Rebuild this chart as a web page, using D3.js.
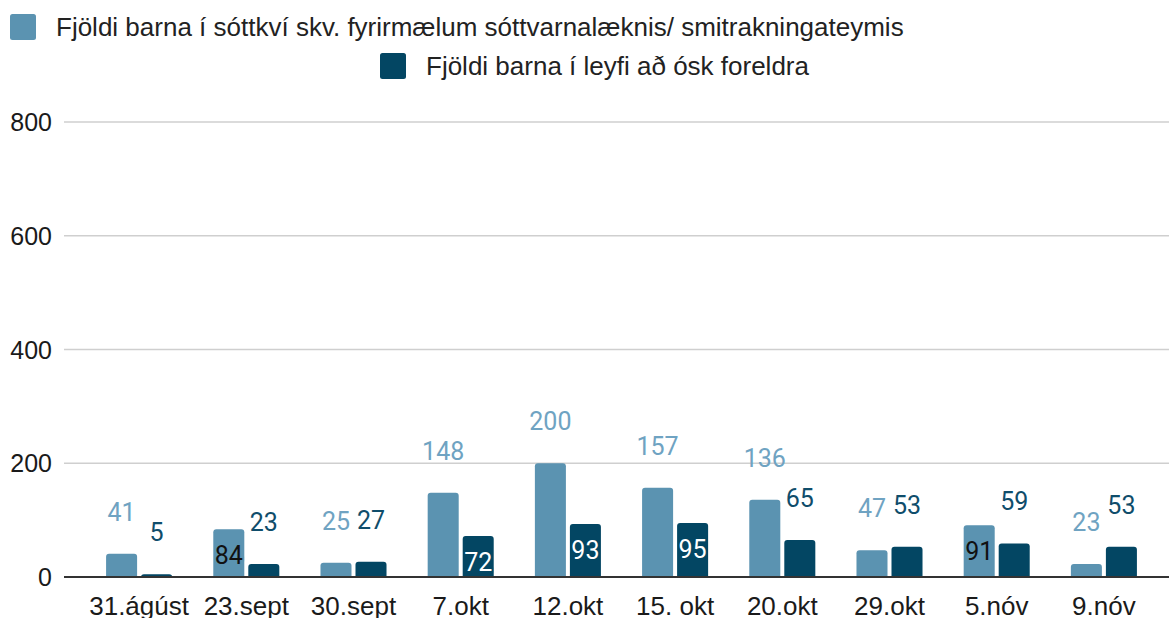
<!DOCTYPE html>
<html lang="is">
<head>
<meta charset="UTF-8">
<title>Fjöldi barna</title>
<style>
  body { margin: 0; background: #fff; }
  svg { display: block; }
</style>
</head>
<body>
<script src="https://cdn.jsdelivr.net/npm/d3@7"></script>
<script>

    var categories = ["31.ágúst", "23.sept", "30.sept", "7.okt", "12.okt", "15. okt", "20.okt", "29.okt", "5.nóv", "9.nóv"];
    var seriesNames = ["Fjöldi barna í sóttkví skv. fyrirmælum sóttvarnalæknis/ smitrakningateymis",
                       "Fjöldi barna í leyfi að ósk foreldra"];
    var quarantine = [41, 84, 25, 148, 200, 157, 136, 47, 91, 23];
    var parentLeave = [5, 23, 27, 72, 93, 95, 65, 53, 59, 53];
    var yTicks = [0, 200, 400, 600, 800];

    // labels the original drew inside the bar instead of above it
    var insideLabels = { "23.sept|0": true, "7.okt|1": true, "12.okt|1": true, "15. okt|1": true, "5.nóv|0": true };

    var colors = ["#5b93b1", "#034663"];
    var labelColors = ["#6fa3c2", "#0f4d6b"];
    var insideColors = ["#111", "#fff"];

    var width = 1169, height = 618;
    var sansFont = "'Liberation Sans', Arial, sans-serif";

    var svg = d3.select("body").append("svg")
        .attr("width", width)
        .attr("height", height);

    var x0 = d3.scaleBand()
        .domain(categories)
        .range([85.5, 1157.5])
        .paddingInner(0.384)
        .paddingOuter(0.192);

    var x1 = d3.scaleBand()
        .domain([0, 1])
        .range([0, x0.bandwidth()])
        .paddingInner(0.114);

    var y = d3.scaleLinear()
        .domain([0, 800])
        .range([577, 122]);

    // gridlines
    svg.append("g")
        .selectAll("line")
        .data(yTicks.filter(function(d) { return d > 0; }))
      .enter().append("line")
        .attr("x1", 64)
        .attr("x2", width)
        .attr("y1", function(d) { return y(d); })
        .attr("y2", function(d) { return y(d); })
        .attr("stroke", "#cfcfcf")
        .attr("stroke-width", 1.6);

    // y labels
    svg.append("g")
        .selectAll("text")
        .data(yTicks)
      .enter().append("text")
        .attr("x", 52)
        .attr("y", function(d) { return y(d); })
        .attr("dy", "0.36em")
        .attr("text-anchor", "end")
        .style("font-family", sansFont)
        .style("font-size", "25px")
        .style("fill", "#1a1a1a")
        .text(function(d) { return d; });

    var rows = [];
    categories.forEach(function(c, i) {
        rows.push({ cat: c, s: 0, v: quarantine[i] });
        rows.push({ cat: c, s: 1, v: parentLeave[i] });
    });

    function topRounded(d) {
        var xl = x0(d.cat) + x1(d.s), w = x1.bandwidth(), yt = y(d.v), yb = y(0), r = Math.min(3, (yb - yt));
        return "M" + xl + "," + yb +
               "V" + (yt + r) +
               "Q" + xl + "," + yt + " " + (xl + r) + "," + yt +
               "H" + (xl + w - r) +
               "Q" + (xl + w) + "," + yt + " " + (xl + w) + "," + (yt + r) +
               "V" + yb + "Z";
    }

    svg.append("g")
        .selectAll("path")
        .data(rows)
      .enter().append("path")
        .attr("d", topRounded)
        .attr("fill", function(d) { return colors[d.s]; });

    // baseline
    svg.append("line")
        .attr("x1", 64)
        .attr("x2", width)
        .attr("y1", y(0))
        .attr("y2", y(0))
        .attr("stroke", "#333")
        .attr("stroke-width", 2);

    function isInside(d) { return insideLabels[d.cat + "|" + d.s]; }

    // value labels
    svg.append("g")
        .selectAll("text")
        .data(rows)
      .enter().append("text")
        .attr("x", function(d) { return x0(d.cat) + x1(d.s) + x1.bandwidth() / 2; })
        .attr("y", function(d) { return isInside(d) ? y(d.v) + 26 : y(d.v) - 42; })
        .attr("dy", "0.36em")
        .attr("text-anchor", "middle")
        .style("font-family", "Roboto, sans-serif")
        .style("font-size", "25px")
        .style("paint-order", "stroke")
        .style("stroke", function(d) { return isInside(d) ? colors[d.s] : "none"; })
        .style("stroke-width", 3)
        .style("fill", function(d) { return isInside(d) ? insideColors[d.s] : labelColors[d.s]; })
        .text(function(d) { return d.v; });

    // x labels
    svg.append("g")
        .selectAll("text")
        .data(categories)
      .enter().append("text")
        .attr("x", function(d) { return x0(d) + x0.bandwidth() / 2; })
        .attr("y", 606)
        .attr("dy", "0.36em")
        .attr("text-anchor", "middle")
        .style("font-family", sansFont)
        .style("font-size", "26px")
        .style("fill", "#1a1a1a")
        .text(function(d) { return d; });

    // legend
    var legendPos = [[10, 27], [380, 66]];
    var legend = svg.append("g")
        .selectAll("g")
        .data(seriesNames)
      .enter().append("g")
        .attr("transform", function(d, i) { return "translate(" + legendPos[i][0] + "," + legendPos[i][1] + ")"; });

    legend.append("rect")
        .attr("x", 0)
        .attr("y", -13)
        .attr("width", 26)
        .attr("height", 26)
        .attr("rx", 2.5)
        .attr("fill", function(d, i) { return colors[i]; });

    legend.append("text")
        .attr("x", 46)
        .attr("dy", "0.36em")
        .style("font-family", sansFont)
        .style("font-size", "26px")
        .style("fill", "#222")
        .text(function(d) { return d; });

</script>
</body>
</html>
